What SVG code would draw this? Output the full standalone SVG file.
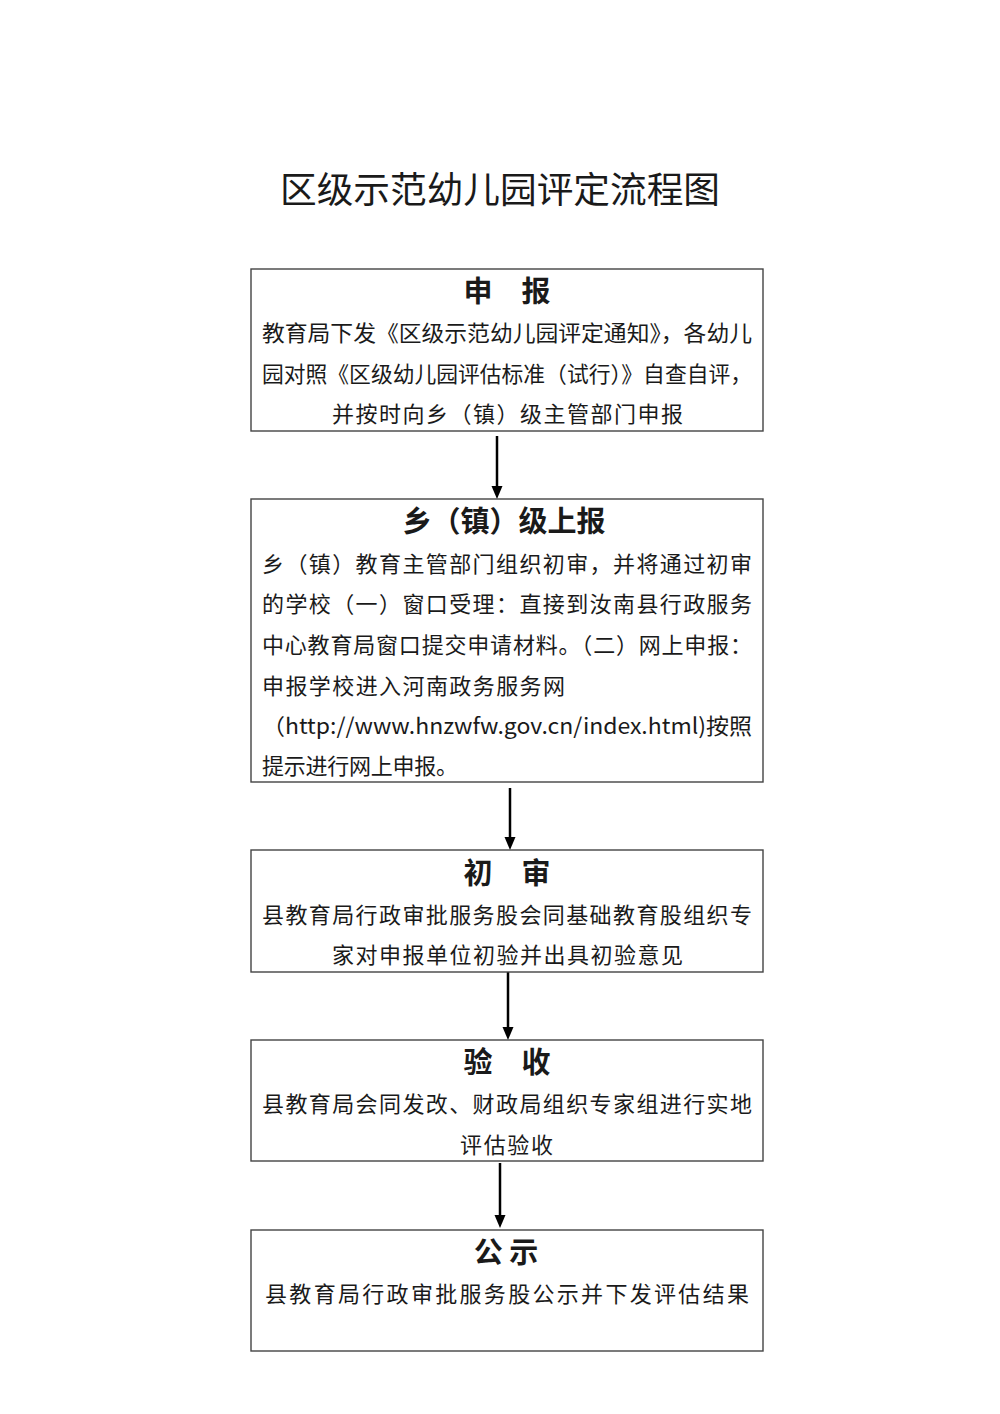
<svg xmlns="http://www.w3.org/2000/svg" width="1000" height="1414" viewBox="0 0 1000 1414">
<style>
.box{fill:#fff;stroke:#444;stroke-width:1.4}
.t{font-family:"Noto Sans CJK SC","Noto Sans",sans-serif;fill:#1a1a1a}
.title{font-size:36px}
.h{font-size:29px;font-weight:bold;text-anchor:middle}
.b{font-size:22px}
.ln{stroke:#000;stroke-width:2.5}
.hd{fill:#000}
</style>
<rect width="1000" height="1414" fill="#fff"/>
<text class="t title" x="280" y="203" textLength="440" lengthAdjust="spacingAndGlyphs">区级示范幼儿园评定流程图</text>

<g id="connectors">
<line class="ln" x1="497" y1="436" x2="497" y2="488"/>
<path class="hd" d="M491.5,486 L502.5,486 L497,499 Z"/>
<line class="ln" x1="510" y1="788" x2="510" y2="839"/>
<path class="hd" d="M504.5,837 L515.5,837 L510,850 Z"/>
<line class="ln" x1="508" y1="972" x2="508" y2="1029"/>
<path class="hd" d="M502.5,1027 L513.5,1027 L508,1040 Z"/>
<line class="ln" x1="500" y1="1163" x2="500" y2="1217"/>
<path class="hd" d="M494.5,1215 L505.5,1215 L500,1228 Z"/>
</g>

<g id="n1">
<rect class="box" x="251" y="269" width="512" height="162"/>
<text class="t h" x="507" y="302">申　报</text>
<text class="t b" x="262" y="341" textLength="490" lengthAdjust="spacingAndGlyphs">教育局下发《区级示范幼儿园评定通知》，各幼儿</text>
<text class="t b" x="262" y="382" textLength="490" lengthAdjust="spacingAndGlyphs">园对照《区级幼儿园评估标准（试行）》自查自评，</text>
<text class="t b" x="332" y="422" textLength="351" lengthAdjust="spacing">并按时向乡（镇）级主管部门申报</text>
</g>

<g id="n2">
<rect class="box" x="251" y="499" width="512" height="283"/>
<text class="t h" x="504" y="532">乡（镇）级上报</text>
<text class="t b" x="262" y="572" textLength="490" lengthAdjust="spacing">乡（镇）教育主管部门组织初审，并将通过初审</text>
<text class="t b" x="262" y="612" textLength="490" lengthAdjust="spacing">的学校（一）窗口受理：直接到汝南县行政服务</text>
<text class="t b" x="262" y="653" textLength="490" lengthAdjust="spacing">中心教育局窗口提交申请材料。（二）网上申报：</text>
<text class="t b" x="262" y="694" textLength="303" lengthAdjust="spacing">申报学校进入河南政务服务网</text>
<text class="t b" x="262" y="734" textLength="490" lengthAdjust="spacingAndGlyphs">（http://www.hnzwfw.gov.cn/index.html)按照</text>
<text class="t b" x="262" y="774" textLength="196" lengthAdjust="spacing">提示进行网上申报。</text>
</g>

<g id="n3">
<rect class="box" x="251" y="850" width="512" height="122"/>
<text class="t h" x="507" y="884">初　审</text>
<text class="t b" x="262" y="923" textLength="490" lengthAdjust="spacing">县教育局行政审批服务股会同基础教育股组织专</text>
<text class="t b" x="332" y="963" textLength="351" lengthAdjust="spacing">家对申报单位初验并出具初验意见</text>
</g>

<g id="n4">
<rect class="box" x="251" y="1040" width="512" height="121"/>
<text class="t h" x="507" y="1073">验　收</text>
<text class="t b" x="262" y="1112" textLength="490" lengthAdjust="spacing">县教育局会同发改、财政局组织专家组进行实地</text>
<text class="t b" x="460" y="1153" textLength="93" lengthAdjust="spacing">评估验收</text>
</g>

<g id="n5">
<rect class="box" x="251" y="1230" width="512" height="121"/>
<text class="t h" x="506" y="1263">公 示</text>
<text class="t b" x="265" y="1302" textLength="484" lengthAdjust="spacing">县教育局行政审批服务股公示并下发评估结果</text>
</g>
</svg>
